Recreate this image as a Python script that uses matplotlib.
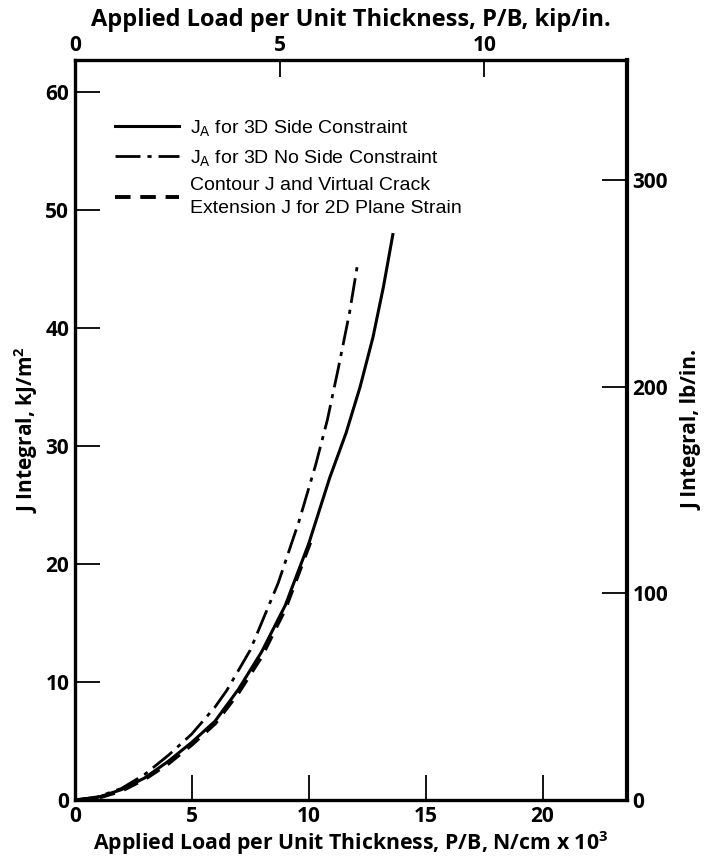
import numpy as np
import matplotlib.pyplot as plt

# J integral vs applied load
load_side = [0, 1, 2, 3, 4, 5, 6, 7, 8, 9, 10, 10.9, 11.6, 12.2, 12.75, 13.2, 13.6]
j_side = [0, 0.25, 0.9, 1.9, 3.3, 4.9, 6.7, 9.4, 12.6, 16.5, 21.7, 27.3, 31.1, 35.0, 39.2, 43.5, 47.9]

load_noside = [0, 1, 2, 3, 4, 5, 6, 6.5, 7.5, 8.7, 9.6, 10.3, 10.8, 11.25, 11.75, 12.1]
j_noside = [0, 0.3, 1.0, 2.2, 3.8, 5.6, 7.9, 9.3, 12.7, 18.4, 23.7, 28.4, 32.2, 36.4, 41.3, 45.5]

load_2d = [0, 1, 2, 3, 4, 5, 6, 7, 8, 9, 10.1]
j_2d = [0, 0.2, 0.8, 1.8, 3.1, 4.7, 6.5, 9.1, 12.2, 16.2, 22.0]

bottom_ticks = [0, 5, 10, 15, 20]
left_ticks = [0, 10, 20, 30, 40, 50, 60]
top_ticks = [0, 5, 10]
right_ticks = [0, 100, 200, 300]

KIP_IN = 1.751    # 1 kip/in. in N/cm x 10^3
LB_IN = 0.1751    # 1 lb/in. in kJ/m^2

plt.rcParams['font.family'] = ['Open Sans', 'DejaVu Sans']

fig = plt.figure(figsize=(7.05, 8.67), dpi=100)
ax = fig.add_axes([0.106, 0.077, 0.783, 0.854])

ax.plot(load_side, j_side, color='black', lw=2.2, ls='-',
        label=r'$\mathregular{J_A}$ for 3D Side Constraint')
ax.plot(load_noside, j_noside, color='black', lw=2.0, ls=(0, (9, 2.5, 1.5, 2.5)),
        label=r'$\mathregular{J_A}$ for 3D No Side Constraint')
ax.plot(load_2d, j_2d, color='black', lw=2.8, ls=(0, (4, 2.5)),
        label='Contour J and Virtual Crack\nExtension J for 2D Plane Strain')

ax.set_xlim(0, 23.6)
ax.set_ylim(0, 62.7)
ax.set_xticks(bottom_ticks)
ax.set_yticks(left_ticks)
for s in ax.spines.values():
    s.set_linewidth(2.4)
ax.spines['right'].set_linewidth(3.0)
ax.tick_params(direction='in', length=18, width=1.3, labelsize=15, pad=4)
for lab in ax.get_xticklabels() + ax.get_yticklabels():
    lab.set_fontweight('bold')
ax.set_xlabel(r'Applied Load per Unit Thickness, P/B, N/cm x 10$^\mathregular{3}$',
              fontsize=15.3, fontweight='bold', labelpad=2)
ax.set_ylabel(r'J Integral, kJ/m$^\mathregular{2}$', fontsize=15, fontweight='bold', labelpad=4)

top = ax.secondary_xaxis('top', functions=(lambda x: x / KIP_IN, lambda x: x * KIP_IN))
top.set_xticks(top_ticks)
top.tick_params(direction='in', length=12, width=1.3, labelsize=15, pad=3)
for lab in top.get_xticklabels():
    lab.set_fontweight('bold')
top.set_xlabel('Applied Load per Unit Thickness, P/B, kip/in.', fontsize=17,
               fontweight='bold', labelpad=6)

right = ax.secondary_yaxis('right', functions=(lambda y: y / LB_IN, lambda y: y * LB_IN))
right.set_yticks(right_ticks)
right.tick_params(direction='in', length=18, width=1.3, labelsize=15, pad=4)
for lab in right.get_yticklabels():
    lab.set_fontweight('bold')
right.set_ylabel('J Integral, lb/in.', fontsize=15, fontweight='bold',
                 rotation=90, labelpad=10)

leg = ax.legend(loc='upper left', bbox_to_anchor=(0.041, 0.945), frameon=False,
                handlelength=3.3, handletextpad=0.55, labelspacing=0.5,
                prop={'family': ['Liberation Sans'], 'size': 14})
for t in leg.get_texts():
    t.set_linespacing(1.45)

fig.savefig('out.png', dpi=100)
